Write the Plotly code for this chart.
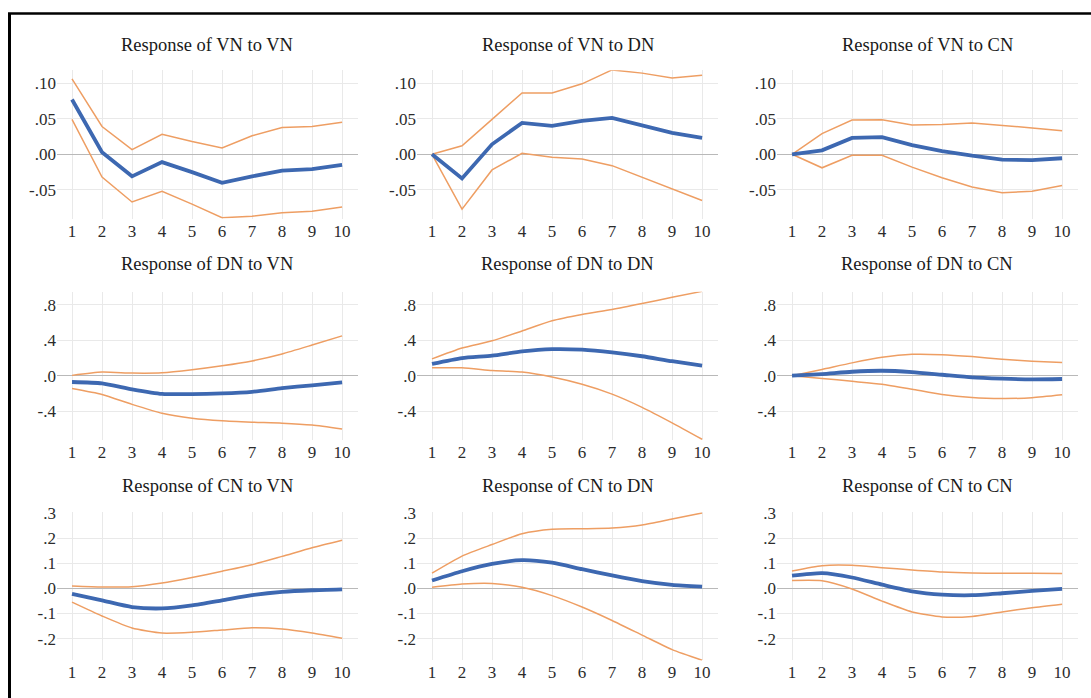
import plotly.graph_objects as go

W, H = 1091, 698
periods = list(range(1, 11))

titles = [
    "Response of VN to VN", "Response of VN to DN", "Response of VN to CN",
    "Response of DN to VN", "Response of DN to DN", "Response of DN to CN",
    "Response of CN to VN", "Response of CN to DN", "Response of CN to CN",
]

# Impulse responses (blue) and +/- 2 S.E. bands (orange)
vn_vn = [0.077, 0.003, -0.031, -0.011, -0.025, -0.040, -0.031, -0.023, -0.021, -0.015]
vn_vn_up = [0.106, 0.039, 0.0065, 0.028, 0.018, 0.009, 0.026, 0.0375, 0.039, 0.045]
vn_vn_lo = [0.049, -0.032, -0.067, -0.052, -0.070, -0.089, -0.087, -0.082, -0.080, -0.074]

vn_dn = [0.0, -0.034, 0.014, 0.044, 0.040, 0.047, 0.051, 0.040, 0.030, 0.023]
vn_dn_up = [0.0, 0.012, 0.049, 0.086, 0.086, 0.099, 0.1185, 0.114, 0.107, 0.111]
vn_dn_lo = [0.0, -0.077, -0.022, 0.0014, -0.004, -0.0065, -0.016, -0.032, -0.049, -0.065]

vn_cn = [0.0, 0.0056, 0.023, 0.024, 0.013, 0.0046, -0.002, -0.0074, -0.0083, -0.0056]
vn_cn_up = [0.0, 0.029, 0.048, 0.0486, 0.041, 0.0417, 0.044, 0.041, 0.037, 0.033]
vn_cn_lo = [0.0, -0.019, -0.0014, -0.0014, -0.018, -0.033, -0.046, -0.054, -0.052, -0.044]

dn_vn = [-0.071, -0.086, -0.153, -0.205, -0.208, -0.200, -0.182, -0.141, -0.108, -0.074]
dn_vn_up = [0.004, 0.041, 0.030, 0.033, 0.067, 0.112, 0.167, 0.246, 0.346, 0.450]
dn_vn_lo = [-0.145, -0.212, -0.324, -0.424, -0.480, -0.510, -0.525, -0.536, -0.558, -0.603]

dn_dn = [0.134, 0.200, 0.227, 0.275, 0.300, 0.294, 0.264, 0.220, 0.164, 0.115]
dn_dn_up = [0.190, 0.313, 0.394, 0.506, 0.621, 0.692, 0.748, 0.815, 0.886, 0.953]
dn_dn_lo = [0.089, 0.089, 0.060, 0.041, -0.015, -0.097, -0.208, -0.357, -0.532, -0.718]

dn_cn = [0.0, 0.019, 0.045, 0.056, 0.041, 0.011, -0.019, -0.033, -0.041, -0.037]
dn_cn_up = [0.0, 0.071, 0.145, 0.208, 0.242, 0.238, 0.216, 0.186, 0.164, 0.149]
dn_cn_lo = [0.0, -0.030, -0.063, -0.097, -0.153, -0.212, -0.246, -0.257, -0.249, -0.216]

cn_vn = [-0.022, -0.048, -0.0745, -0.080, -0.068, -0.048, -0.0275, -0.0144, -0.0078, -0.004]
cn_vn_up = [0.009, 0.005, 0.0065, 0.021, 0.043, 0.068, 0.094, 0.127, 0.161, 0.191]
cn_vn_lo = [-0.055, -0.110, -0.158, -0.178, -0.175, -0.166, -0.157, -0.162, -0.178, -0.199]

cn_dn = [0.031, 0.068, 0.097, 0.112, 0.102, 0.076, 0.051, 0.029, 0.014, 0.0065]
cn_dn_up = [0.060, 0.128, 0.174, 0.217, 0.235, 0.237, 0.240, 0.252, 0.276, 0.300]
cn_dn_lo = [0.004, 0.017, 0.0196, 0.004, -0.029, -0.0745, -0.128, -0.186, -0.244, -0.286]

cn_cn = [0.050, 0.060, 0.043, 0.0144, -0.012, -0.025, -0.0275, -0.0196, -0.0105, -0.0026]
cn_cn_up = [0.069, 0.090, 0.0915, 0.082, 0.073, 0.065, 0.061, 0.060, 0.060, 0.059]
cn_cn_lo = [0.031, 0.030, -0.0026, -0.051, -0.094, -0.114, -0.112, -0.094, -0.077, -0.063]

panels = [
    (vn_vn, vn_vn_up, vn_vn_lo), (vn_dn, vn_dn_up, vn_dn_lo), (vn_cn, vn_cn_up, vn_cn_lo),
    (dn_vn, dn_vn_up, dn_vn_lo), (dn_dn, dn_dn_up, dn_dn_lo), (dn_cn, dn_cn_up, dn_cn_lo),
    (cn_vn, cn_vn_up, cn_vn_lo), (cn_dn, cn_dn_up, cn_dn_lo), (cn_cn, cn_cn_up, cn_cn_lo),
]

row_tickvals = [
    [0.10, 0.05, 0.0, -0.05],
    [0.8, 0.4, 0.0, -0.4],
    [0.3, 0.2, 0.1, 0.0, -0.1, -0.2],
]
row_ticktext = [
    [".10", ".05", ".00", "-.05"],
    [".8", ".4", ".0", "-.4"],
    [".3", ".2", ".1", ".0", "-.1", "-.2"],
]
row_ranges = [[-0.0903, 0.118], [-0.726, 0.949], [-0.287, 0.303]]

# pixel layout
col_left = [57, 417, 777]
plot_w = 301
row_top = [63, 287, 510]
plot_h = 150
title_y = [37, 259, 484]

BLUE = "#3d68b1"
ORANGE = "#ee9e63"
FONT = "Liberation Serif"

fig = go.Figure()
annotations = []
for i, (mid, up, lo) in enumerate(panels):
    r, c = divmod(i, 3)
    n = i + 1
    xa = "x" if n == 1 else f"x{n}"
    ya = "y" if n == 1 else f"y{n}"
    shape = "linear" if r == 0 else "spline"
    for ser, col, wd in ((up, ORANGE, 1.5), (lo, ORANGE, 1.5), (mid, BLUE, 3.8)):
        fig.add_trace(go.Scatter(
            x=periods, y=ser, mode="lines", xaxis=xa, yaxis=ya,
            line=dict(color=col, width=wd, shape=shape, smoothing=0.6),
            showlegend=False, hoverinfo="skip"))
    x0 = col_left[c] / W
    x1 = (col_left[c] + plot_w) / W
    y1 = 1 - row_top[r] / H
    y0 = 1 - (row_top[r] + plot_h) / H
    axkey_x = "xaxis" if n == 1 else f"xaxis{n}"
    axkey_y = "yaxis" if n == 1 else f"yaxis{n}"
    fig.update_layout(**{
        axkey_x: dict(domain=[x0, x1], anchor=ya, range=[0.5, 10.53],
                      tickvals=periods, ticktext=[str(p) for p in periods],
                      showgrid=True, gridcolor="#e9e9e9", gridwidth=1,
                      zeroline=False, showline=False, ticks="",
                      tickfont=dict(family=FONT, size=17, color="#2b2b2b")),
        axkey_y: dict(domain=[y0, y1], anchor=xa, range=row_ranges[r],
                      tickvals=row_tickvals[r], ticktext=row_ticktext[r],
                      showgrid=True, gridcolor="#e9e9e9", gridwidth=1,
                      zeroline=True, zerolinecolor="#b9b9b9", zerolinewidth=1,
                      showline=False, ticks="",
                      tickfont=dict(family=FONT, size=17, color="#2b2b2b")),
    })
    annotations.append(dict(
        text=titles[i], xref="paper", yref="paper",
        x=(x0 + x1) / 2, y=1 - title_y[r] / H, xanchor="center", yanchor="middle",
        showarrow=False, font=dict(family=FONT, size=18.5, color="#1a1a1a")))

shapes = [
    dict(type="line", xref="paper", yref="paper", x0=8 / W, x1=1.0,
         y0=1 - 5.5 / H, y1=1 - 5.5 / H, line=dict(color="black", width=2.5)),
    dict(type="line", xref="paper", yref="paper", x0=9.5 / W, x1=9.5 / W,
         y0=1 - 5 / H, y1=0, line=dict(color="black", width=3)),
]

fig.update_layout(
    width=W, height=H, margin=dict(l=0, r=0, t=0, b=0),
    paper_bgcolor="white", plot_bgcolor="white",
    annotations=annotations, shapes=shapes,
)

fig.write_html(
    "out.html",
    config={"displayModeBar": False},
    post_script="document.body.style.margin='0';document.body.style.overflow='hidden';",
)
